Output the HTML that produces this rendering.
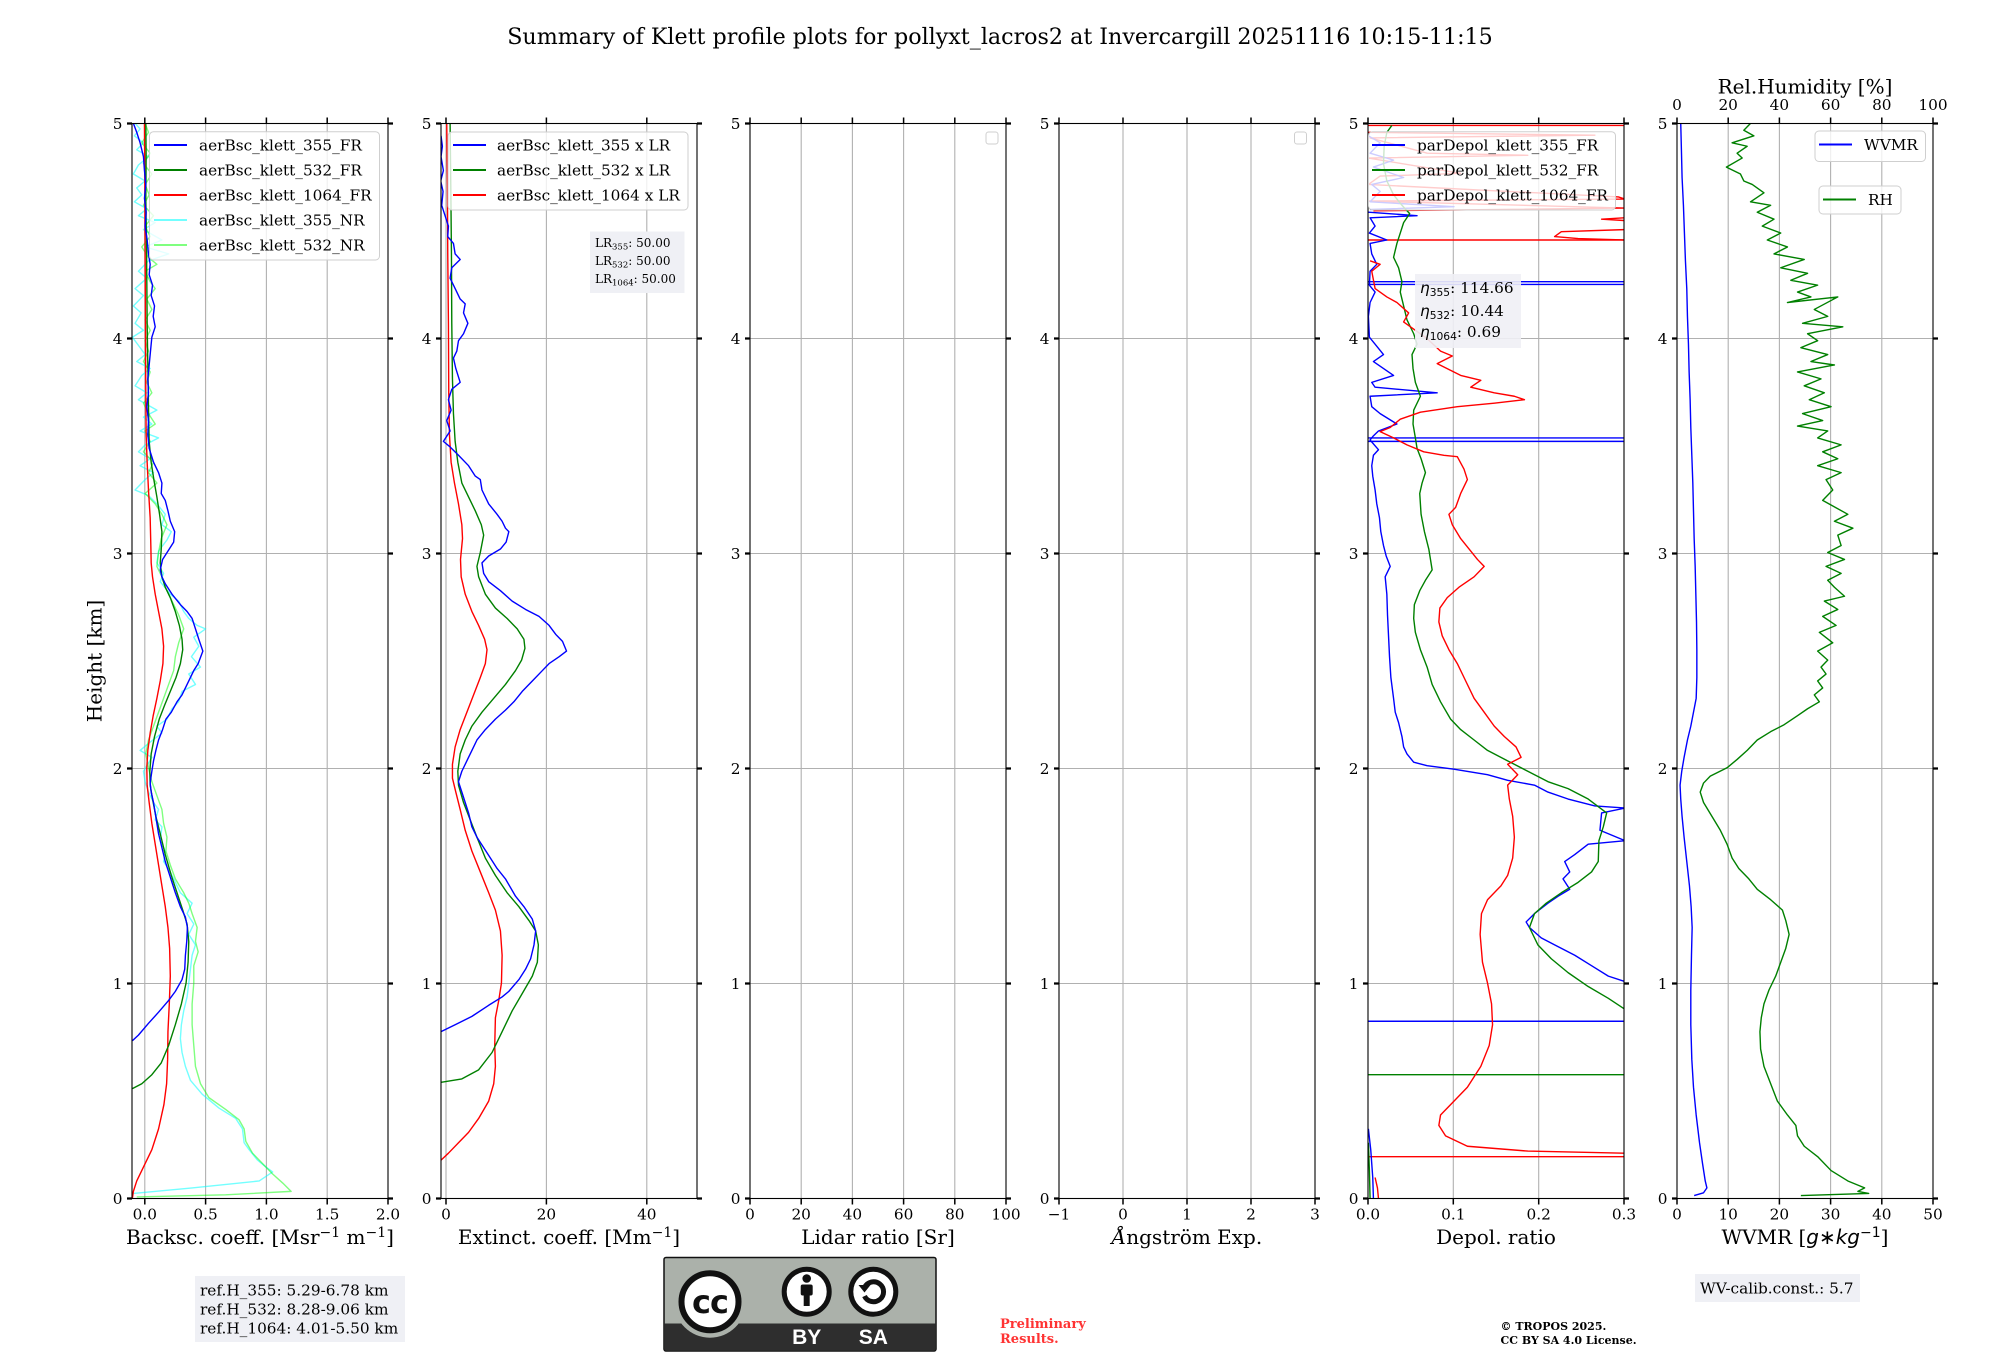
<!DOCTYPE html>
<html><head><meta charset="utf-8"><style>
html,body{margin:0;padding:0;background:#fff;}
svg{display:block;}
text{font-family:"DejaVu Serif","Liberation Serif",serif;fill:#000;}
.tk{font-size:15.3px;}
.lab{font-size:20px;}
.lg{font-size:15.3px;}
.grid{stroke:#b0b0b0;stroke-width:1.1;}
.sp{fill:none;stroke:#000;stroke-width:1.1;}
.xt{stroke:#000;stroke-width:1.5;}
.yt{stroke:#000;stroke-width:2.2;}
.c{fill:none;stroke-width:1.4;stroke-linejoin:round;vector-effect:non-scaling-stroke;}
.leg{fill:rgba(255,255,255,0.8);stroke:#cfcfcf;stroke-width:1;}
</style></head><body>
<svg width="2000" height="1360" viewBox="0 0 2000 1360" xmlns="http://www.w3.org/2000/svg">
<defs>
<clipPath id="c1"><rect x="132" y="123.5" width="256" height="1075"/></clipPath>
<clipPath id="c2"><rect x="441" y="123.5" width="256" height="1075"/></clipPath>
<clipPath id="c5"><rect x="1368" y="123.5" width="256" height="1075"/></clipPath>
<clipPath id="c6"><rect x="1677" y="123.5" width="256" height="1075"/></clipPath>
</defs>
<rect width="2000" height="1360" fill="#fff"/>
<text x="1000" y="44" text-anchor="middle" style="font-size:22.2px">Summary of Klett profile plots for pollyxt_lacros2 at Invercargill 20251116 10:15-11:15</text>

<!-- horizontal gridlines -->
<g class="grid">
<line x1="132" y1="338.5" x2="388" y2="338.5"/><line x1="132" y1="553.5" x2="388" y2="553.5"/><line x1="132" y1="768.5" x2="388" y2="768.5"/><line x1="132" y1="983.5" x2="388" y2="983.5"/>
<line x1="441" y1="338.5" x2="697" y2="338.5"/><line x1="441" y1="553.5" x2="697" y2="553.5"/><line x1="441" y1="768.5" x2="697" y2="768.5"/><line x1="441" y1="983.5" x2="697" y2="983.5"/>
<line x1="750" y1="338.5" x2="1006" y2="338.5"/><line x1="750" y1="553.5" x2="1006" y2="553.5"/><line x1="750" y1="768.5" x2="1006" y2="768.5"/><line x1="750" y1="983.5" x2="1006" y2="983.5"/>
<line x1="1059" y1="338.5" x2="1315" y2="338.5"/><line x1="1059" y1="553.5" x2="1315" y2="553.5"/><line x1="1059" y1="768.5" x2="1315" y2="768.5"/><line x1="1059" y1="983.5" x2="1315" y2="983.5"/>
<line x1="1368" y1="338.5" x2="1624" y2="338.5"/><line x1="1368" y1="553.5" x2="1624" y2="553.5"/><line x1="1368" y1="768.5" x2="1624" y2="768.5"/><line x1="1368" y1="983.5" x2="1624" y2="983.5"/>
<line x1="1677" y1="338.5" x2="1933" y2="338.5"/><line x1="1677" y1="553.5" x2="1933" y2="553.5"/><line x1="1677" y1="768.5" x2="1933" y2="768.5"/><line x1="1677" y1="983.5" x2="1933" y2="983.5"/>
<!-- vertical -->
<line x1="144.8" y1="123.5" x2="144.8" y2="1198.5"/><line x1="205.6" y1="123.5" x2="205.6" y2="1198.5"/><line x1="266.4" y1="123.5" x2="266.4" y2="1198.5"/><line x1="327.2" y1="123.5" x2="327.2" y2="1198.5"/>
<line x1="446" y1="123.5" x2="446" y2="1198.5"/><line x1="546.4" y1="123.5" x2="546.4" y2="1198.5"/><line x1="646.8" y1="123.5" x2="646.8" y2="1198.5"/>
<line x1="801.2" y1="123.5" x2="801.2" y2="1198.5"/><line x1="852.4" y1="123.5" x2="852.4" y2="1198.5"/><line x1="903.6" y1="123.5" x2="903.6" y2="1198.5"/><line x1="954.8" y1="123.5" x2="954.8" y2="1198.5"/>
<line x1="1123" y1="123.5" x2="1123" y2="1198.5"/><line x1="1187" y1="123.5" x2="1187" y2="1198.5"/><line x1="1251" y1="123.5" x2="1251" y2="1198.5"/>
<line x1="1453.3" y1="123.5" x2="1453.3" y2="1198.5"/><line x1="1538.7" y1="123.5" x2="1538.7" y2="1198.5"/>
<line x1="1728.2" y1="123.5" x2="1728.2" y2="1198.5"/><line x1="1779.4" y1="123.5" x2="1779.4" y2="1198.5"/><line x1="1830.6" y1="123.5" x2="1830.6" y2="1198.5"/><line x1="1881.8" y1="123.5" x2="1881.8" y2="1198.5"/>
</g>

<!-- PANEL 1 curves -->
<g clip-path="url(#c1)"><g transform="translate(125,115) scale(0.33557,0.69444)">
<polyline class="c" stroke="#00ffff" stroke-opacity="0.55" points="30,12 45,20 28,30 55,40 35,50 70,60 40,72 25,85 60,95 35,105 50,115 28,125 65,135 40,145 90,155 55,165 110,180 60,190 130,200 70,210 40,225 65,235 30,250 55,260 25,275 48,285 30,300 55,310 22,320 45,335 60,345 35,355 75,365 50,375 30,390 65,400 40,410 95,425 55,435 80,445 45,455 100,465 60,475 40,485 75,495 45,505 85,515 60,525 30,540 70,548 95,560 120,575 110,590 138,600 125,612 100,628 95,645 115,660 105,672 135,690 160,700 175,715 190,725 215,735 240,740 205,752 220,765 198,780 225,795 190,805 210,820 170,830 160,845 140,855 125,870 95,880 110,890 70,905 45,915 80,925 55,945 60,960 70,975 85,990 100,1000 90,1015 110,1025 105,1045 120,1060 115,1075 135,1090 150,1105 165,1120 200,1135 185,1150 205,1165 190,1180 210,1195 200,1210 195,1230 190,1250 185,1270 175,1290 168,1310 165,1330 170,1350 180,1370 195,1390 230,1410 280,1430 330,1445 350,1460 355,1480 370,1490 395,1505 420,1515 440,1522 400,1535 200,1545 25,1553"/>
<polyline class="c" stroke="#00ff00" stroke-opacity="0.5" points="60,12 70,25 50,40 75,55 55,70 80,85 60,100 72,115 55,130 85,145 60,160 75,175 50,190 70,205 95,215 60,225 75,240 90,250 65,265 80,280 60,295 75,310 60,325 70,340 55,355 75,370 65,385 80,400 55,415 70,430 90,445 60,455 75,470 55,485 85,500 70,515 95,530 60,545 90,560 110,575 125,590 108,610 100,630 95,650 110,665 120,680 140,700 160,720 175,740 160,760 150,780 145,800 130,820 115,840 100,860 85,880 70,900 62,920 70,940 80,960 95,980 110,1000 115,1020 125,1040 122,1060 135,1080 150,1100 175,1120 190,1135 200,1150 215,1170 210,1190 218,1205 205,1225 205,1250 200,1280 200,1310 205,1340 210,1370 225,1395 250,1415 300,1432 340,1447 355,1460 360,1478 380,1495 410,1510 440,1525 470,1538 495,1550 300,1555 35,1558"/>
<polyline class="c" stroke="#ff0000" points="58,12 59,100 60,200 61,300 62,400 63,460 66,500 70,540 75,580 77,620 78,645 82,665 90,690 100,715 110,740 115,765 113,790 105,815 95,840 84,865 75,890 68,915 65,940 66,965 72,990 80,1020 90,1050 100,1080 110,1110 120,1140 128,1170 133,1200 135,1240 132,1280 128,1320 127,1360 124,1395 116,1425 100,1460 80,1490 55,1515 35,1535 25,1550 22,1560"/>
<polyline class="c" stroke="#008000" points="62,12 63,60 62,120 64,180 65,240 66,300 68,360 70,420 72,470 78,500 86,525 95,550 103,575 110,600 108,625 105,645 110,665 120,680 135,695 150,715 162,735 170,755 172,770 165,790 152,810 135,830 118,850 102,870 88,895 78,920 74,945 75,965 82,985 92,1010 105,1035 120,1065 138,1095 155,1120 172,1145 185,1165 190,1190 188,1220 182,1250 168,1280 150,1310 130,1340 108,1365 80,1382 50,1395 22,1402"/>
<polyline class="c" stroke="#0000ff" points="25,12 35,25 45,40 55,60 58,80 62,100 58,120 63,140 60,160 66,180 70,200 75,215 72,230 82,245 78,260 88,275 84,290 90,305 80,320 76,340 72,360 68,380 70,400 65,420 70,440 68,460 72,480 85,500 100,515 110,530 108,545 120,555 128,570 135,585 148,600 145,615 132,625 112,640 105,655 110,665 120,675 140,690 165,705 185,715 200,725 210,740 220,755 232,772 218,790 205,800 185,820 170,835 155,845 138,860 122,870 112,885 100,900 92,915 85,930 80,945 75,962 78,975 85,990 90,1005 95,1020 100,1035 110,1055 120,1075 130,1090 140,1105 150,1120 165,1140 180,1155 186,1170 184,1190 180,1210 178,1230 170,1245 150,1262 130,1275 100,1292 70,1308 40,1325 22,1333"/>
</g></g>

<!-- PANEL 2 curves -->
<g clip-path="url(#c2)"><g transform="translate(435,115) scale(0.33557,0.69444)">
<polyline class="c" stroke="#ff0000" points="35,12 37,100 38,200 40,300 41,400 43,460 48,500 58,530 70,560 80,590 82,610 76,640 78,665 90,690 110,715 130,735 148,755 155,770 150,790 135,810 115,835 95,860 75,885 60,910 52,935 52,955 62,975 75,1000 90,1030 110,1060 135,1090 160,1120 180,1145 195,1175 200,1210 198,1250 190,1275 180,1300 178,1340 180,1370 175,1395 160,1420 130,1445 100,1465 70,1480 40,1495 18,1505"/>
<polyline class="c" stroke="#008000" points="45,12 47,100 49,200 50,300 52,380 55,430 60,470 68,500 80,530 100,550 120,570 138,590 145,605 135,630 125,650 130,665 150,690 180,710 215,725 245,740 265,755 268,768 258,785 240,800 210,820 175,840 140,860 110,880 90,900 75,920 68,945 70,965 85,990 105,1015 125,1040 150,1070 180,1095 215,1120 250,1140 280,1160 300,1175 308,1195 305,1220 290,1240 260,1265 230,1290 200,1320 170,1350 130,1375 80,1388 18,1393"/>
<polyline class="c" stroke="#0000ff" points="18,30 22,45 18,60 25,80 17,95 24,110 20,130 30,145 40,160 38,175 55,185 60,200 75,208 50,220 45,235 60,250 75,265 90,272 85,285 98,300 85,315 70,325 65,340 55,350 62,365 75,385 50,395 40,410 48,425 35,440 45,455 25,470 45,478 70,490 100,505 120,520 135,525 140,540 160,560 185,575 200,585 210,595 220,600 212,615 195,625 160,635 140,645 145,660 160,672 195,685 230,700 270,712 310,722 340,735 360,748 380,758 392,772 370,780 340,790 320,800 290,815 260,830 235,845 210,857 180,870 150,885 125,900 110,915 95,930 80,945 70,960 80,975 90,990 100,1005 110,1025 125,1040 145,1055 165,1070 185,1085 210,1100 240,1125 265,1140 290,1158 300,1175 295,1195 285,1215 270,1230 250,1245 220,1262 200,1270 160,1282 110,1298 60,1310 18,1320"/>
</g></g>

<!-- PANEL 5 curves -->
<g clip-path="url(#c5)"><g transform="translate(1360,115) scale(0.33557,0.69444)">
<polyline class="c" stroke="#ff0000" points="25,15 790,15"/>
<polyline class="c" stroke="#ff0000" points="25,25 700,29 30,33 200,55 500,58 25,62 300,84 60,88 25,100 770,118 790,121 25,124 790,134 40,138"/>
<polyline class="c" stroke="#0000ff" points="25,30 60,40 30,55 100,65 40,75 130,90 35,100 60,110 30,125 280,132 30,136"/>
<polyline class="c" stroke="#ff0000" points="790,148 720,150 790,152"/>
<polyline class="c" stroke="#ff0000" points="790,165 600,168 580,175 650,178 790,180"/>
<polyline class="c" stroke="#ff0000" points="25,180 790,180"/>
<polyline class="c" stroke="#0000ff" points="25,240 790,240 790,244 25,244"/>
<polyline class="c" stroke="#0000ff" points="25,465 790,465 790,470 25,470"/>
<polyline class="c" stroke="#0000ff" points="25,1305 790,1305"/>
<polyline class="c" stroke="#008000" points="25,1382 790,1382"/>
<polyline class="c" stroke="#ff0000" points="25,1500 790,1500"/>
<polyline class="c" stroke="#0000ff" points="25,140 170,145 30,148 45,160 28,170 80,180 30,185 35,200 50,215 30,225 28,245 45,255 30,270 25,290 28,320 45,330 70,345 40,355 100,375 35,385 45,392 230,400 30,405 35,420 60,430 110,445 55,455 40,462 30,468 55,482 40,490 35,505 38,520 45,540 50,560 58,580 62,600 70,620 78,635 90,650 75,665 80,690 82,720 85,750 88,780 92,810 100,840 105,860 115,875 125,895 130,910 140,920 160,932 200,937 280,942 380,950 440,958 520,965 560,975 620,985 700,995 790,998 720,1005 715,1030 790,1045 680,1050 640,1065 610,1075 625,1090 605,1100 625,1115 590,1125 560,1135 520,1150 495,1162 505,1170 540,1185 580,1195 640,1210 690,1225 740,1240 790,1248"/>
<polyline class="c" stroke="#0000ff" points="25,1460 32,1490 38,1530 40,1560"/>
<polyline class="c" stroke="#008000" points="95,15 80,25 72,45 70,70 80,95 100,115 125,130 148,142 130,155 120,170 110,185 100,205 115,220 125,240 120,255 130,275 140,295 160,315 170,330 155,345 158,365 165,385 180,405 160,425 158,445 165,465 170,480 182,495 195,515 185,530 178,545 182,575 192,600 205,625 215,655 195,670 178,685 162,705 160,725 165,745 180,770 200,795 215,820 240,845 270,870 300,885 340,900 380,915 440,930 500,945 560,960 620,970 680,985 735,1005 725,1025 712,1045 710,1075 690,1090 650,1105 600,1120 555,1135 520,1150 505,1170 530,1195 570,1215 620,1235 680,1255 740,1272 790,1288"/>
<polyline class="c" stroke="#008000" points="25,1480 28,1520 30,1560"/>
<polyline class="c" stroke="#ff0000" points="30,210 60,215 35,225 45,250 80,262 110,270 145,285 130,298 165,310 200,322 240,340 275,347 230,358 300,375 360,382 330,392 400,400 460,405 490,410 400,415 290,420 180,428 120,438 90,450 60,456 100,465 140,475 190,485 250,490 290,492 310,510 320,525 300,545 285,565 265,575 275,590 300,610 330,628 350,640 370,650 340,665 295,680 260,695 238,710 235,730 245,750 265,770 290,790 310,810 340,840 370,860 400,880 430,895 465,910 480,925 440,935 470,950 440,965 445,985 455,1010 460,1040 455,1070 440,1095 420,1110 380,1130 362,1150 358,1180 365,1220 380,1250 392,1280 395,1310 385,1340 360,1370 320,1400 270,1425 240,1440 235,1455 255,1470 320,1485 500,1492 790,1495"/>
<polyline class="c" stroke="#ff0000" points="45,1530 52,1545 55,1560"/>
</g></g>

<!-- PANEL 6 curves -->
<g clip-path="url(#c6)"><g transform="translate(1670,115) scale(0.33557,0.69444)">
<polyline class="c" stroke="#008000" points="240,12 220,22 250,30 185,40 230,45 200,55 215,62 168,75 210,85 220,95 245,100 280,112 240,125 300,130 260,140 310,150 275,160 330,170 290,180 350,190 310,200 400,208 330,220 410,228 360,238 440,245 380,255 420,262 350,270 500,262 430,280 470,290 395,300 515,305 410,315 440,325 390,335 470,345 420,355 490,360 380,370 450,380 400,390 460,400 415,410 480,420 395,430 455,440 380,448 470,455 440,465 510,475 455,485 500,495 440,505 510,515 465,525 485,540 455,555 530,575 490,585 545,595 500,605 510,620 470,630 520,640 465,650 510,660 470,670 490,680 520,693 460,700 500,712 455,722 495,735 445,745 485,760 440,772 470,785 450,795 465,805 440,815 455,825 430,835 445,845 410,855 380,865 340,878 300,888 260,900 230,915 200,928 170,940 120,952 100,962 90,975 100,990 125,1010 150,1030 170,1050 185,1070 205,1085 235,1100 260,1115 300,1130 335,1145 345,1160 355,1180 345,1200 330,1220 315,1240 295,1260 280,1280 272,1300 268,1320 270,1345 280,1370 300,1395 320,1420 350,1440 375,1455 380,1470 400,1485 440,1500 480,1520 530,1535 580,1545 560,1550 592,1553 390,1556"/>
<polyline class="c" stroke="#0000ff" points="32,12 34,50 36,90 40,130 43,170 46,210 50,250 52,290 55,330 57,370 60,410 62,450 65,490 68,530 70,570 72,610 75,650 77,690 79,730 80,770 80,810 78,840 70,860 62,880 52,900 42,925 35,945 30,965 32,985 36,1010 42,1040 50,1075 58,1110 63,1140 66,1170 64,1210 62,1260 62,1310 65,1360 70,1400 78,1440 88,1480 97,1510 105,1535 110,1545 100,1552 72,1556"/>
</g></g>

<!-- spines -->
<rect class="sp" x="132" y="123.5" width="256" height="1075"/>
<rect class="sp" x="441" y="123.5" width="256" height="1075"/>
<rect class="sp" x="750" y="123.5" width="256" height="1075"/>
<rect class="sp" x="1059" y="123.5" width="256" height="1075"/>
<rect class="sp" x="1368" y="123.5" width="256" height="1075"/>
<rect class="sp" x="1677" y="123.5" width="256" height="1075"/>

<!-- y ticks (left & right) -->
<g class="yt">
<path d="M127 123.5H132M127 338.5H132M127 553.5H132M127 768.5H132M127 983.5H132M127 1198.5H132M388 123.5H393M388 338.5H393M388 553.5H393M388 768.5H393M388 983.5H393M388 1198.5H393"/>
<path d="M436 123.5H441M436 338.5H441M436 553.5H441M436 768.5H441M436 983.5H441M436 1198.5H441M697 123.5H702M697 338.5H702M697 553.5H702M697 768.5H702M697 983.5H702M697 1198.5H702"/>
<path d="M745 123.5H750M745 338.5H750M745 553.5H750M745 768.5H750M745 983.5H750M745 1198.5H750M1006 123.5H1011M1006 338.5H1011M1006 553.5H1011M1006 768.5H1011M1006 983.5H1011M1006 1198.5H1011"/>
<path d="M1054 123.5H1059M1054 338.5H1059M1054 553.5H1059M1054 768.5H1059M1054 983.5H1059M1054 1198.5H1059M1315 123.5H1320M1315 338.5H1320M1315 553.5H1320M1315 768.5H1320M1315 983.5H1320M1315 1198.5H1320"/>
<path d="M1363 123.5H1368M1363 338.5H1368M1363 553.5H1368M1363 768.5H1368M1363 983.5H1368M1363 1198.5H1368M1624 123.5H1629M1624 338.5H1629M1624 553.5H1629M1624 768.5H1629M1624 983.5H1629M1624 1198.5H1629"/>
<path d="M1672 123.5H1677M1672 338.5H1677M1672 553.5H1677M1672 768.5H1677M1672 983.5H1677M1672 1198.5H1677M1933 123.5H1938M1933 338.5H1938M1933 553.5H1938M1933 768.5H1938M1933 983.5H1938M1933 1198.5H1938"/>
</g>
<!-- x ticks bottom & top -->
<g class="xt">
<path d="M144.8 1198.5V1204.5M205.6 1198.5V1204.5M266.4 1198.5V1204.5M327.2 1198.5V1204.5M388 1198.5V1204.5M144.8 117.5V123.5M205.6 117.5V123.5M266.4 117.5V123.5M327.2 117.5V123.5M388 117.5V123.5"/>
<path d="M446 1198.5V1204.5M546.4 1198.5V1204.5M646.8 1198.5V1204.5M446 117.5V123.5M546.4 117.5V123.5M646.8 117.5V123.5"/>
<path d="M750 1198.5V1204.5M801.2 1198.5V1204.5M852.4 1198.5V1204.5M903.6 1198.5V1204.5M954.8 1198.5V1204.5M1006 1198.5V1204.5M750 117.5V123.5M801.2 117.5V123.5M852.4 117.5V123.5M903.6 117.5V123.5M954.8 117.5V123.5M1006 117.5V123.5"/>
<path d="M1059 1198.5V1204.5M1123 1198.5V1204.5M1187 1198.5V1204.5M1251 1198.5V1204.5M1315 1198.5V1204.5M1059 117.5V123.5M1123 117.5V123.5M1187 117.5V123.5M1251 117.5V123.5M1315 117.5V123.5"/>
<path d="M1368 1198.5V1204.5M1453.3 1198.5V1204.5M1538.7 1198.5V1204.5M1624 1198.5V1204.5M1368 117.5V123.5M1453.3 117.5V123.5M1538.7 117.5V123.5M1624 117.5V123.5"/>
<path d="M1677 1198.5V1204.5M1728.2 1198.5V1204.5M1779.4 1198.5V1204.5M1830.6 1198.5V1204.5M1881.8 1198.5V1204.5M1933 1198.5V1204.5M1677 117.5V123.5M1728.2 117.5V123.5M1779.4 117.5V123.5M1830.6 117.5V123.5M1881.8 117.5V123.5M1933 117.5V123.5"/>
</g>

<!-- y tick labels -->
<g class="tk" text-anchor="end">
<text x="122.5" y="129">5</text><text x="122.5" y="344">4</text><text x="122.5" y="559">3</text><text x="122.5" y="774">2</text><text x="122.5" y="989">1</text><text x="122.5" y="1204">0</text>
<text x="431.5" y="129">5</text><text x="431.5" y="344">4</text><text x="431.5" y="559">3</text><text x="431.5" y="774">2</text><text x="431.5" y="989">1</text><text x="431.5" y="1204">0</text>
<text x="740.5" y="129">5</text><text x="740.5" y="344">4</text><text x="740.5" y="559">3</text><text x="740.5" y="774">2</text><text x="740.5" y="989">1</text><text x="740.5" y="1204">0</text>
<text x="1049.5" y="129">5</text><text x="1049.5" y="344">4</text><text x="1049.5" y="559">3</text><text x="1049.5" y="774">2</text><text x="1049.5" y="989">1</text><text x="1049.5" y="1204">0</text>
<text x="1358.5" y="129">5</text><text x="1358.5" y="344">4</text><text x="1358.5" y="559">3</text><text x="1358.5" y="774">2</text><text x="1358.5" y="989">1</text><text x="1358.5" y="1204">0</text>
<text x="1667.5" y="129">5</text><text x="1667.5" y="344">4</text><text x="1667.5" y="559">3</text><text x="1667.5" y="774">2</text><text x="1667.5" y="989">1</text><text x="1667.5" y="1204">0</text>
</g>
<!-- x tick labels -->
<g class="tk" text-anchor="middle">
<text x="144.8" y="1219.5">0.0</text><text x="205.6" y="1219.5">0.5</text><text x="266.4" y="1219.5">1.0</text><text x="327.2" y="1219.5">1.5</text><text x="388" y="1219.5">2.0</text>
<text x="446" y="1219.5">0</text><text x="546.4" y="1219.5">20</text><text x="646.8" y="1219.5">40</text>
<text x="750" y="1219.5">0</text><text x="801.2" y="1219.5">20</text><text x="852.4" y="1219.5">40</text><text x="903.6" y="1219.5">60</text><text x="954.8" y="1219.5">80</text><text x="1006" y="1219.5">100</text>
<text x="1059" y="1219.5">−1</text><text x="1123" y="1219.5">0</text><text x="1187" y="1219.5">1</text><text x="1251" y="1219.5">2</text><text x="1315" y="1219.5">3</text>
<text x="1368" y="1219.5">0.0</text><text x="1453.3" y="1219.5">0.1</text><text x="1538.7" y="1219.5">0.2</text><text x="1624" y="1219.5">0.3</text>
<text x="1677" y="1219.5">0</text><text x="1728.2" y="1219.5">10</text><text x="1779.4" y="1219.5">20</text><text x="1830.6" y="1219.5">30</text><text x="1881.8" y="1219.5">40</text><text x="1933" y="1219.5">50</text>
<text x="1677" y="110">0</text><text x="1728.2" y="110">20</text><text x="1779.4" y="110">40</text><text x="1830.6" y="110">60</text><text x="1881.8" y="110">80</text><text x="1933" y="110">100</text>
</g>

<!-- axis labels -->
<g class="lab" text-anchor="middle">
<text x="260" y="1244">Backsc. coeff. [Msr<tspan dy="-7" font-size="14px">−1</tspan><tspan dy="7"> m</tspan><tspan dy="-7" font-size="14px">−1</tspan><tspan dy="7">]</tspan></text>
<text x="569" y="1244">Extinct. coeff. [Mm<tspan dy="-7" font-size="14px">−1</tspan><tspan dy="7">]</tspan></text>
<text x="878" y="1244">Lidar ratio [Sr]</text>
<text x="1187" y="1244"><tspan font-style="italic">Å</tspan>ngström Exp.</text>
<text x="1496" y="1244">Depol. ratio</text>
<text x="1805" y="1244">WVMR [<tspan font-family="DejaVu Sans" font-style="italic">g∗kg</tspan><tspan dy="-7" font-size="14px" font-family="DejaVu Sans">−1</tspan><tspan dy="7">]</tspan></text>
<text x="1805" y="93.5">Rel.Humidity [%]</text>
<text transform="translate(101.5,661) rotate(-90)">Height [km]</text>
</g>

<!-- Legend panel 1 -->
<rect class="leg" x="149.5" y="131.7" width="230" height="128.3" rx="4"/>
<g stroke-width="2">
<line x1="154" y1="145" x2="187" y2="145" stroke="#0000ff"/>
<line x1="154" y1="170" x2="187" y2="170" stroke="#008000"/>
<line x1="154" y1="195" x2="187" y2="195" stroke="#ff0000"/>
<line x1="154" y1="220" x2="187" y2="220" stroke="#00ffff" stroke-opacity="0.55"/>
<line x1="154" y1="245" x2="187" y2="245" stroke="#00ff00" stroke-opacity="0.5"/>
</g>
<g class="lg">
<text x="199" y="150.5">aerBsc_klett_355_FR</text>
<text x="199" y="175.5">aerBsc_klett_532_FR</text>
<text x="199" y="200.5">aerBsc_klett_1064_FR</text>
<text x="199" y="225.5">aerBsc_klett_355_NR</text>
<text x="199" y="250.5">aerBsc_klett_532_NR</text>
</g>

<!-- Legend panel 2 -->
<rect class="leg" x="448" y="132" width="240" height="78" rx="4"/>
<g stroke-width="2">
<line x1="453" y1="145" x2="486" y2="145" stroke="#0000ff"/>
<line x1="453" y1="170" x2="486" y2="170" stroke="#008000"/>
<line x1="453" y1="195" x2="486" y2="195" stroke="#ff0000"/>
</g>
<g class="lg">
<text x="497" y="150.5">aerBsc_klett_355 x LR</text>
<text x="497" y="175.5">aerBsc_klett_532 x LR</text>
<text x="497" y="200.5">aerBsc_klett_1064 x LR</text>
</g>
<rect x="590" y="231.5" width="94.5" height="61.5" fill="#eff0f5"/>
<g style="font-size:12px">
<text x="595" y="247">LR<tspan dy="2.5" font-size="8.5px">355</tspan><tspan dy="-2.5">: 50.00</tspan></text>
<text x="595" y="265">LR<tspan dy="2.5" font-size="8.5px">532</tspan><tspan dy="-2.5">: 50.00</tspan></text>
<text x="595" y="283">LR<tspan dy="2.5" font-size="8.5px">1064</tspan><tspan dy="-2.5">: 50.00</tspan></text>
</g>

<!-- empty legends panel 3/4 -->
<rect x="986" y="132" width="12" height="12" rx="2.5" fill="#fff" stroke="#cfcfcf" stroke-width="1"/>
<rect x="1294.5" y="132" width="12" height="12" rx="2.5" fill="#fff" stroke="#cfcfcf" stroke-width="1"/>

<!-- Legend panel 5 -->
<rect class="leg" x="1368.5" y="131.7" width="247" height="78.3" rx="4"/>
<g stroke-width="2">
<line x1="1372" y1="145" x2="1405" y2="145" stroke="#0000ff"/>
<line x1="1372" y1="170" x2="1405" y2="170" stroke="#008000"/>
<line x1="1372" y1="195" x2="1405" y2="195" stroke="#ff0000"/>
</g>
<g class="lg">
<text x="1417" y="150.5">parDepol_klett_355_FR</text>
<text x="1417" y="175.5">parDepol_klett_532_FR</text>
<text x="1417" y="200.5">parDepol_klett_1064_FR</text>
</g>
<rect x="1415" y="274" width="106" height="74" fill="#eff0f5" fill-opacity="0.9"/>
<g style="font-size:15.3px">
<text x="1420" y="293"><tspan font-family="DejaVu Sans" font-style="italic">η</tspan><tspan dy="3" font-size="10.7px" font-family="DejaVu Sans">355</tspan><tspan dy="-3">: 114.66</tspan></text>
<text x="1420" y="316"><tspan font-family="DejaVu Sans" font-style="italic">η</tspan><tspan dy="3" font-size="10.7px" font-family="DejaVu Sans">532</tspan><tspan dy="-3">: 10.44</tspan></text>
<text x="1420" y="337"><tspan font-family="DejaVu Sans" font-style="italic">η</tspan><tspan dy="3" font-size="10.7px" font-family="DejaVu Sans">1064</tspan><tspan dy="-3">: 0.69</tspan></text>
</g>

<!-- Legends panel 6 -->
<rect class="leg" x="1815" y="131" width="110.5" height="30.5" rx="4"/>
<line x1="1819" y1="144.5" x2="1852" y2="144.5" stroke="#0000ff" stroke-width="2"/>
<text class="lg" x="1864" y="150">WVMR</text>
<rect class="leg" x="1819" y="186" width="82" height="28" rx="4"/>
<line x1="1823" y1="199.5" x2="1856" y2="199.5" stroke="#008000" stroke-width="2"/>
<text class="lg" x="1868" y="205">RH</text>

<!-- bottom text boxes -->
<rect x="195" y="1276" width="210" height="66" fill="#eff0f5"/>
<g style="font-size:15.3px">
<text x="200" y="1295.5">ref.H_355: 5.29-6.78 km</text>
<text x="200" y="1314.5">ref.H_532: 8.28-9.06 km</text>
<text x="200" y="1333.5">ref.H_1064: 4.01-5.50 km</text>
</g>
<rect x="1695" y="1274" width="165" height="28" fill="#eff0f5"/>
<text x="1700" y="1293.5" style="font-size:15.3px">WV-calib.const.: 5.7</text>

<text x="1000" y="1328" style="font-size:13px;font-weight:bold;fill:#ff3333">Preliminary</text>
<text x="1000" y="1343" style="font-size:13px;font-weight:bold;fill:#ff3333">Results.</text>
<text x="1500.5" y="1330" style="font-size:11px;font-weight:bold">© TROPOS 2025.</text>
<text x="1500.5" y="1344" style="font-size:11px;font-weight:bold">CC BY SA 4.0 License.</text>

<!-- CC BY SA logo -->
<g>
<rect x="664" y="1257.5" width="272" height="93.5" rx="2" fill="#abb1aa" stroke="#111" stroke-width="1.5"/>
<rect x="664.7" y="1323.5" width="270.6" height="26.8" fill="#2e2e2e"/>
<circle cx="710" cy="1301.7" r="36" fill="#abb1aa"/>
<circle cx="710" cy="1301.7" r="28.5" fill="#fff" stroke="#111" stroke-width="6"/>
<text x="710" y="1313" text-anchor="middle" style="font-family:'DejaVu Sans',sans-serif;font-weight:bold;font-size:32px;letter-spacing:-1px;fill:#111">cc</text>
<circle cx="806.7" cy="1291.7" r="22.5" fill="#fff" stroke="#111" stroke-width="5"/>
<circle cx="806.7" cy="1278.5" r="4.3" fill="#111"/>
<rect x="800.7" y="1284.5" width="12" height="11" rx="2" fill="#111"/>
<rect x="803.7" y="1293" width="6" height="13" fill="#111"/>
<circle cx="873.3" cy="1291.7" r="22.5" fill="#fff" stroke="#111" stroke-width="5"/>
<path d="M864.5 1287.5 A10 10 0 1 1 864.5 1296" fill="none" stroke="#111" stroke-width="5"/>
<path d="M858.5 1285 L870.5 1285 L864.5 1292.5 Z" fill="#111"/>
<text x="806.7" y="1344" text-anchor="middle" style="font-family:'Liberation Sans',sans-serif;font-weight:bold;font-size:21px;fill:#fff">BY</text>
<text x="873.3" y="1344" text-anchor="middle" style="font-family:'Liberation Sans',sans-serif;font-weight:bold;font-size:21px;fill:#fff">SA</text>
</g>
</svg>
</body></html>
